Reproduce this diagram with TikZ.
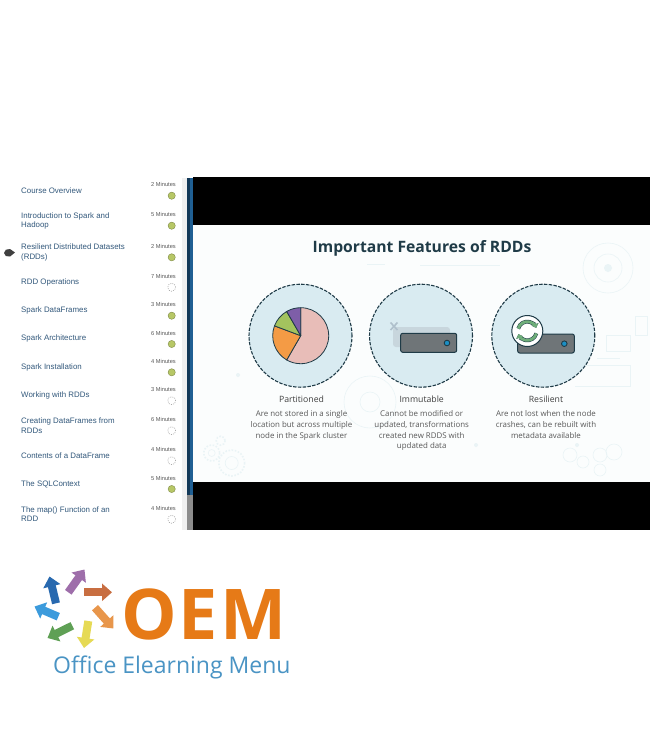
\documentclass[tikz,border=0pt]{standalone}
\usepackage{fontspec}
\setmainfont{Liberation Sans}
\newfontfamily\slidefont{Open Sans}
\newfontfamily\logofont{Open Sans}
\definecolor{navy}{HTML}{33597C}
\definecolor{dotgreen}{HTML}{B7C766}
\definecolor{slidebg}{HTML}{FBFDFD}
\definecolor{disc}{HTML}{D9EBF1}
\definecolor{ring}{HTML}{1F3B47}
\definecolor{srv}{HTML}{6F7578}
\definecolor{led}{HTML}{1B8FC4}
\definecolor{barblue}{HTML}{1F5F93}
\definecolor{oemorange}{HTML}{E67A17}
\definecolor{oemblue}{HTML}{4A94C4}
\definecolor{deco}{HTML}{EAF4F6}
\definecolor{piepink}{HTML}{E8BDB8}
\definecolor{pieorange}{HTML}{F49B45}
\definecolor{piegreen}{HTML}{A3C35E}
\definecolor{piepurple}{HTML}{7E5EA8}
\definecolor{ghost}{HTML}{C8D6DD}
\definecolor{ghostx}{HTML}{AFC0CC}
\definecolor{refresh}{HTML}{6FAE7A}
\definecolor{arrowa}{RGB}{158,110,170}
\definecolor{arrowb}{RGB}{200,110,65}
\definecolor{arrowc}{RGB}{232,150,75}
\definecolor{arrowd}{RGB}{230,218,85}
\definecolor{arrowe}{RGB}{95,160,85}
\definecolor{arrowf}{RGB}{60,155,220}
\definecolor{arrowg}{RGB}{40,105,175}
\usetikzlibrary{arrows.meta}
\tikzset{
  x=1pt,y=-1pt,
  lesson/.style={anchor=west,align=left,text=navy,font=\fontsize{7.9}{9.7}\selectfont,inner sep=0pt},
  mins/.style={anchor=east,text=black!65,font=\fontsize{5.7}{6.5}\selectfont,inner sep=0pt},
  done/.style={circle,fill=dotgreen,draw=dotgreen!70!black,line width=.4pt,minimum size=7.2pt,inner sep=0pt},
  todo/.style={circle,draw=black!40,dash pattern=on 1pt off 1.2pt,line width=.5pt,minimum size=8pt,inner sep=0pt},
  feature/.style={circle,fill=disc,draw=ring,dash pattern=on 3.4pt off 1.4pt,line width=1.1pt,minimum size=103pt,inner sep=0pt},
  ftitle/.style={anchor=center,text=black!75,font=\slidefont\fontsize{8.7}{10}\selectfont,inner sep=0pt},
  fbody/.style={anchor=north,align=center,text=black!65,font=\slidefont\fontsize{7.9}{10.7}\selectfont,inner sep=0pt},
  server/.style={rounded corners=2pt,fill=srv,draw=ring,line width=1pt},
  wedge/.style={draw=ring,line width=.8pt,line join=round},
  logoarrow/.style={line width=8pt,-{Triangle[width=17pt,length=10pt]}},
  decoline/.style={draw=deco,line width=.6pt},
  decogear/.style={draw=deco,line width=1.6pt,dash pattern=on 1.6pt off 1.6pt},
}
\begin{document}
\begin{tikzpicture}
\useasboundingbox (0,0) rectangle (650,750);
\fill[white] (0,0) rectangle (650,750);
% side strip and scrollbar
\fill[black!6] (182,178) rectangle (193,529.5);
\fill[black] (193,176.5) rectangle (650,529.5);
\fill[black!45] (187,178) rectangle (193,529.5);
\fill[barblue] (187,178) rectangle (193,495);
\fill[barblue!60!black] (187,178) rectangle (189.5,495);
% slide
\fill[slidebg] (193,225) rectangle (650,482);
% faint decoration
\draw[decoline] (608,268) circle (25) (608,268) circle (14);
\fill[deco] (608,268) circle (4);
\draw[decoline] (635.7,316.7) rectangle (647.3,335) (606.7,335) rectangle (630,351.7);
\draw[decoline] (597,358) -- (620,358);
\draw[decoline] (575,365) -- (630,365) -- (630,386.7) -- (575,386.7);
\draw[decoline] (370,402) circle (26) (370,402) circle (10);
\draw[decoline] (420,265) -- (500,265) (367,264) -- (385,264);
\draw[decogear] (231.7,463) circle (13);
\draw[decogear] (211.7,453) circle (8);
\draw[decogear] (220.7,440.7) circle (4.5);
\draw[decoline] (231.7,463) circle (6.5) (211.7,453) circle (3.5);
\draw[decoline] (570,455) circle (7) (583,462) circle (6) (600,455) circle (7) (614,452) circle (8) (600,470) circle (6);
\fill[deco] (238,375) circle (2) (476,445) circle (2) (577,445) circle (2);
% lessons
\node[lesson] (l1) at (21,190.3) {Course Overview};
\node[lesson] (l2) at (21,221) {Introduction to Spark and\\Hadoop};
\node[lesson] (l3) at (21,252.3) {Resilient Distributed Datasets\\(RDDs)};
\node[lesson] (l4) at (21,282) {RDD Operations};
\node[lesson] (l5) at (21,310.7) {Spark DataFrames};
\node[lesson] (l6) at (21,338.7) {Spark Architecture};
\node[lesson] (l7) at (21,367.3) {Spark Installation};
\node[lesson] (l8) at (21,395.3) {Working with RDDs};
\node[lesson] (l9) at (21,425.5) {Creating DataFrames from\\RDDs};
\node[lesson] (l10) at (21,455.7) {Contents of a DataFrame};
\node[lesson] (l11) at (21,484) {The SQLContext};
\node[lesson] (l12) at (21,514) {The map() Function of an\\RDD};
% durations
\node[mins] (m1) at (176,184.5) {2 Minutes};
\node[mins] (m2) at (176,214.5) {5 Minutes};
\node[mins] (m3) at (176,246) {2 Minutes};
\node[mins] (m4) at (176,276.5) {7 Minutes};
\node[mins] (m5) at (176,304.5) {3 Minutes};
\node[mins] (m6) at (176,333) {6 Minutes};
\node[mins] (m7) at (176,361) {4 Minutes};
\node[mins] (m8) at (176,389.5) {3 Minutes};
\node[mins] (m9) at (176,419.5) {6 Minutes};
\node[mins] (m10) at (176,449.5) {4 Minutes};
\node[mins] (m11) at (176,478) {5 Minutes};
\node[mins] (m12) at (176,508) {4 Minutes};
% status
\node[done] (s1) at (171.7,195.7) {};
\node[done] (s2) at (171.7,225.7) {};
\node[done] (s3) at (171.7,257.3) {};
\node[todo] (s4) at (171.7,287.3) {};
\node[done] (s5) at (171.7,315.7) {};
\node[done] (s6) at (171.7,344) {};
\node[done] (s7) at (171.7,372.3) {};
\node[todo] (s8) at (171.7,400.7) {};
\node[todo] (s9) at (171.7,430.7) {};
\node[todo] (s10) at (171.7,460.7) {};
\node[done] (s11) at (171.7,489) {};
\node[todo] (s12) at (171.7,519.3) {};
% current pointer
\fill[black!75] (4,253) .. controls (4,250) and (7,248.5) .. (10,249) -- (15,252.5) -- (10,256.5) .. controls (7,257) and (4,256) .. (4,253) -- cycle;
% title
\node[text=ring,font=\slidefont\bfseries\fontsize{15.7}{19}\selectfont,inner sep=0pt] (title) at (422,248) {Important Features of RDDs};
% discs
\node[feature] (f1) at (300.5,335.7) {};
\node[feature] (f2) at (421,335.7) {};
\node[feature] (f3) at (543.3,335.7) {};
% pie
\coordinate (pc) at (300.7,335.7);
\filldraw[wedge,fill=piepink] (pc) -- ++(-90:28) arc[start angle=-90,end angle=120,radius=28] -- cycle;
\filldraw[wedge,fill=pieorange] (pc) -- ++(120:28) arc[start angle=120,end angle=200.6,radius=28] -- cycle;
\filldraw[wedge,fill=piegreen] (pc) -- ++(200.6:28) arc[start angle=200.6,end angle=240,radius=28] -- cycle;
\filldraw[wedge,fill=piepurple] (pc) -- ++(240:28) arc[start angle=240,end angle=270,radius=28] -- cycle;
% immutable server
\fill[ghost,rounded corners=3pt] (393,327) rectangle (450,347);
\draw[ghostx,line width=1.6pt] (390.5,322.5) -- (397.5,330) (397.5,322.5) -- (390.5,330);
\draw[server] (400.7,333.3) rectangle (456.7,352.3);
\filldraw[fill=led,draw=ring,line width=.9pt] (447,343) circle (2.8);
% resilient server
\draw[server] (517.7,334) rectangle (574.3,353);
\filldraw[fill=led,draw=ring,line width=.9pt] (564.3,343.7) circle (2.8);
\filldraw[fill=white,draw=ring,line width=1pt] (527.3,331) circle (15.5);
\foreach \col/\wid in {ring/3.8pt,refresh/2.8pt}{
  \draw[\col,line width=\wid,-{Triangle[width=7pt,length=3.6pt]}] (527.3,331) ++(195:9.4) arc[start angle=195,end angle=340,radius=9.4];
  \draw[\col,line width=\wid,-{Triangle[width=7pt,length=3.6pt]}] (527.3,331) ++(15:9.4) arc[start angle=15,end angle=160,radius=9.4];
}
% labels
\node[ftitle] (t1) at (301.5,399.3) {Partitioned};
\node[fbody] (b1) at (301.5,410.5) {Are not stored in a single\\location but across multiple\\node in the Spark cluster};
\node[ftitle] (t2) at (421.7,399.3) {Immutable};
\node[fbody] (b2) at (421.7,410.5) {Cannot be modified or\\updated, transformations\\created new RDDS with\\updated data};
\node[ftitle] (t3) at (546,399.3) {Resilient};
\node[fbody] (b3) at (546,410.5) {Are not lost when the node\\crashes, can be rebuilt with\\metadata available};
% logo arrows
\coordinate (a1s) at (68.3,592.3); \coordinate (a1e) at (84.5,569.5);
\coordinate (a2s) at (84,592.3); \coordinate (a2e) at (112,592.3);
\coordinate (a3s) at (95,607.7); \coordinate (a3e) at (113.5,628.5);
\coordinate (a4s) at (88.3,621); \coordinate (a4e) at (84,648);
\coordinate (a5s) at (72.3,625.7); \coordinate (a5e) at (47.5,638);
\coordinate (a6s) at (58.3,616.7); \coordinate (a6e) at (34.5,606.5);
\coordinate (a7s) at (56,603.3); \coordinate (a7e) at (49.5,576.5);
\draw[logoarrow,arrowa] (a1s) -- (a1e);
\draw[logoarrow,arrowb] (a2s) -- (a2e);
\draw[logoarrow,arrowc] (a3s) -- (a3e);
\draw[logoarrow,arrowd] (a4s) -- (a4e);
\draw[logoarrow,arrowe] (a5s) -- (a5e);
\draw[logoarrow,arrowf] (a6s) -- (a6e);
\draw[logoarrow,arrowg] (a7s) -- (a7e);
% logo text
\node[anchor=west,text=oemorange,font=\logofont\bfseries\fontsize{70}{72}\selectfont\addfontfeature{LetterSpace=3},inner sep=0pt] (oem) at (121,614.5) {OEM};
\node[anchor=west,text=oemblue,font=\logofont\fontsize{23}{25}\selectfont,inner sep=0pt] (oemsub) at (53,667) {Office Elearning Menu};
\end{tikzpicture}
\end{document}
